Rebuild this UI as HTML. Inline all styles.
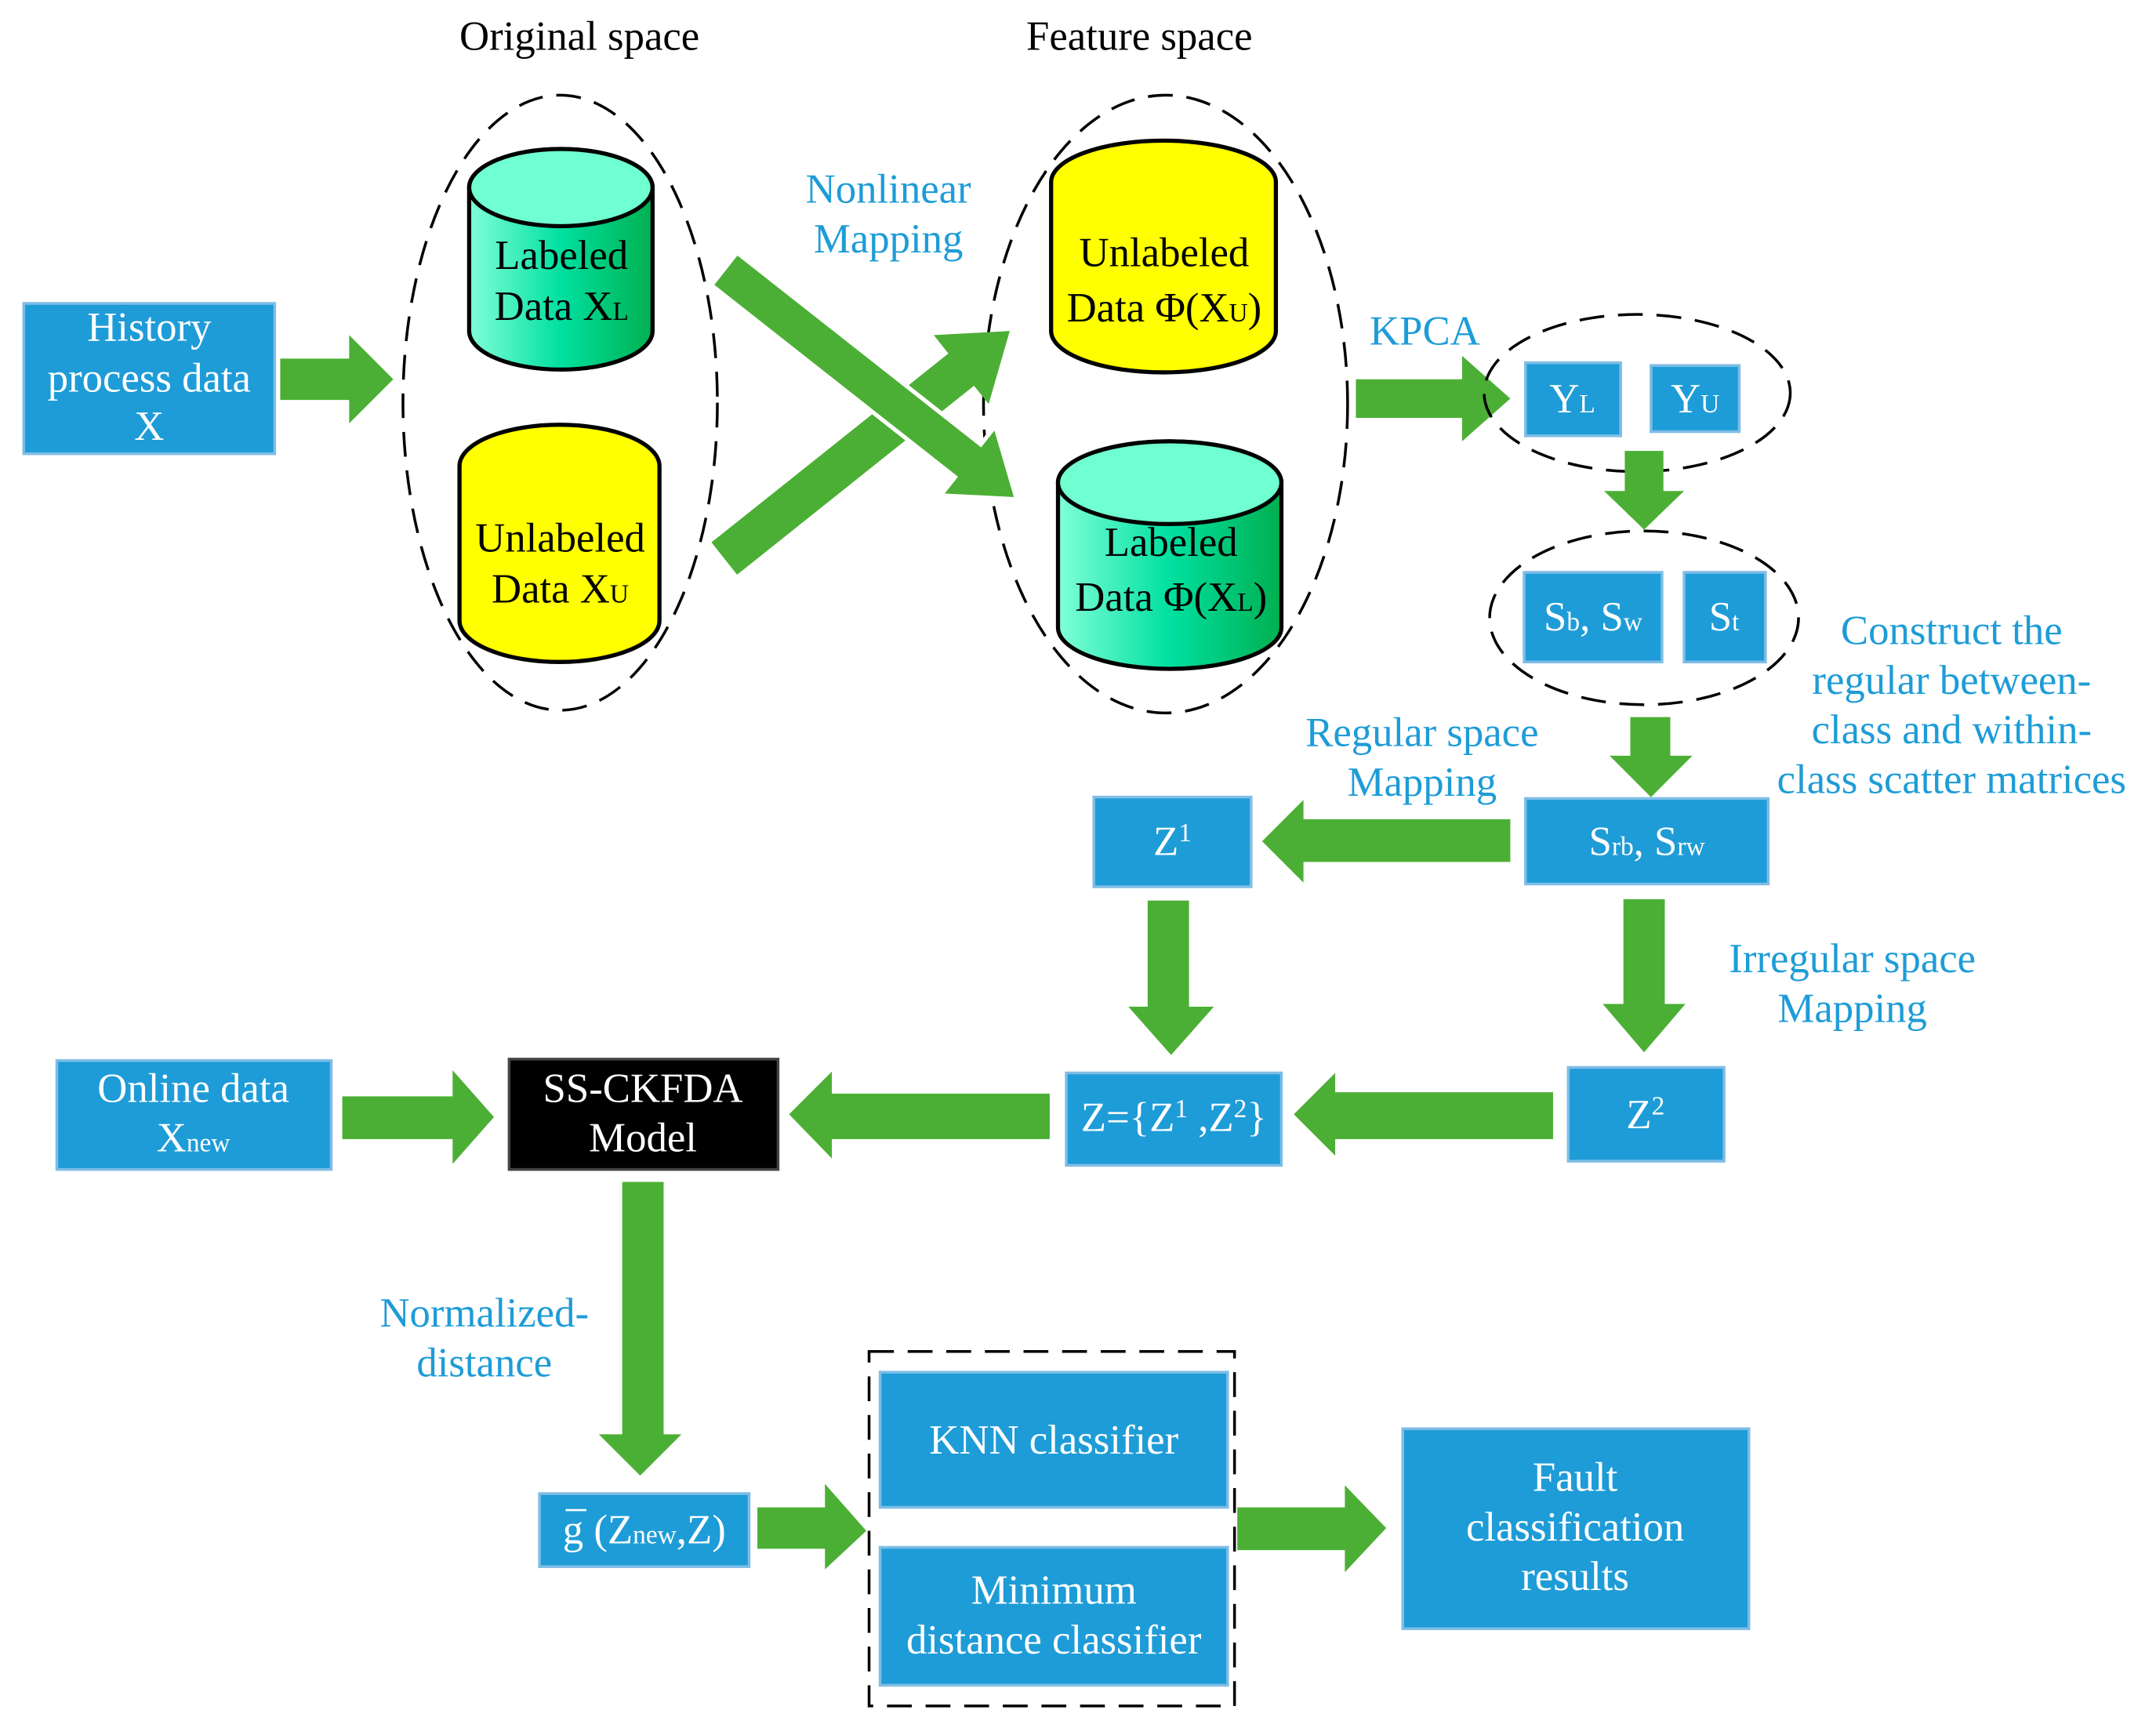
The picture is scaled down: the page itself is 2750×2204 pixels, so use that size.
<!DOCTYPE html>
<html><head><meta charset="utf-8"><style>
html,body{margin:0;padding:0;background:#fff}
svg{display:block}
text{font-family:"Liberation Serif",serif}
.w{fill:#fff;font-size:30px;text-anchor:middle}
.b{fill:#1e9cd7;font-size:30px;text-anchor:middle}
.k{fill:#000;font-size:30px;text-anchor:middle}
.bx{fill:#1e9cd7;stroke:#7fbde6;stroke-width:2}
.g{fill:#4caf35}
.d{fill:none;stroke:#000;stroke-width:2;stroke-dasharray:18,10}
.s{font-size:19px}
</style></head><body>
<svg width="2750" height="2204" viewBox="0 0 1563 1253" xmlns="http://www.w3.org/2000/svg">
<defs>
<linearGradient id="tg" x1="0" x2="1" y1="0" y2="0">
<stop offset="0" stop-color="#80ffd8"/><stop offset="0.5" stop-color="#00e0a0"/><stop offset="1" stop-color="#00b050"/>
</linearGradient>
</defs>

<text class="k" x="420" y="36">Original space</text>
<text class="k" x="826" y="36">Feature space</text>

<ellipse class="d" cx="406" cy="292" rx="114" ry="223"/>
<ellipse class="d" cx="845" cy="293" rx="132" ry="224"/>

<path d="M340,136 L340,240 A66.5,28 0 0 0 473,240 L473,136 A66.5,28 0 0 0 340,136 Z" fill="url(#tg)" stroke="#000" stroke-width="3"/>
<ellipse cx="406.5" cy="136" rx="66.5" ry="28" fill="#70ffd0" stroke="#000" stroke-width="3"/>
<text class="k" x="407" y="195">Labeled</text>
<text class="k" x="407" y="232">Data X<tspan class="s">L</tspan></text>

<path d="M333,338 L333,450 A72.5,30 0 0 0 478,450 L478,338 A72.5,30 0 0 0 333,338 Z" fill="#ffff00" stroke="#000" stroke-width="3"/>
<text class="k" x="406" y="400">Unlabeled</text>
<text class="k" x="406" y="437">Data X<tspan class="s">U</tspan></text>

<path d="M762,132 L762,240 A81.5,30 0 0 0 925,240 L925,132 A81.5,30 0 0 0 762,132 Z" fill="#ffff00" stroke="#000" stroke-width="3"/>
<text class="k" x="844" y="193">Unlabeled</text>
<text class="k" x="844" y="233">Data Φ(X<tspan class="s">U</tspan>)</text>

<path d="M767,350 L767,455 A81,30 0 0 0 929,455 L929,350 A81,30 0 0 0 767,350 Z" fill="url(#tg)" stroke="#000" stroke-width="3"/>
<ellipse cx="848" cy="350" rx="81" ry="30" fill="#70ffd0" stroke="#000" stroke-width="3"/>
<text class="k" x="849" y="403">Labeled</text>
<text class="k" x="849" y="443">Data Φ(X<tspan class="s">L</tspan>)</text>

<rect class="bx" x="17" y="220" width="182" height="109"/>
<text class="w" x="108" y="247">History</text>
<text class="w" x="108" y="284">process data</text>
<text class="w" x="108" y="319">X</text>
<polygon class="g" points="203,260 253,260 253,243 285,275 253,307 253,290 203,290"/>

<text class="b" x="644" y="147">Nonlinear</text>
<text class="b" x="644" y="183">Mapping</text>

<polygon class="g" points="515.7,393.3 687.5,256.3 676.9,243 732,240 716.7,293 706.1,279.7 534.3,416.7"/>
<polygon class="g" stroke="#fff" stroke-width="3" points="534.3,183.2 711,322.3 721.5,309 737,362 681.9,359.2 692.4,345.9 515.7,206.8"/>

<text class="b" x="1033" y="250">KPCA</text>
<polygon class="g" points="983,275 1060,275 1060,258 1095,289 1060,320 1060,303 983,303"/>
<ellipse class="d" cx="1187" cy="285" rx="111" ry="57"/>
<rect class="bx" x="1106" y="263" width="69" height="53"/>
<text class="w" x="1140" y="299">Y<tspan class="s">L</tspan></text>
<rect class="bx" x="1197" y="265" width="64" height="48"/>
<text class="w" x="1229" y="299">Y<tspan class="s">U</tspan></text>

<polygon class="g" points="1178,327 1206,327 1206,356 1221,356 1192,384 1163,356 1178,356"/>
<ellipse class="d" cx="1192" cy="448" rx="112" ry="63"/>
<rect class="bx" x="1105" y="415" width="100" height="65"/>
<text class="w" x="1155" y="457">S<tspan class="s">b</tspan>, S<tspan class="s">w</tspan></text>
<rect class="bx" x="1221" y="415" width="59" height="65"/>
<text class="w" x="1250" y="457">S<tspan class="s">t</tspan></text>

<text class="b" x="1415" y="467">Construct the</text>
<text class="b" x="1415" y="503">regular between-</text>
<text class="b" x="1415" y="539">class and within-</text>
<text class="b" x="1415" y="575">class scatter matrices</text>

<polygon class="g" points="1182,520 1211,520 1211,548 1227,548 1197,578 1167,548 1182,548"/>
<rect class="bx" x="1106" y="579" width="176" height="62"/>
<text class="w" x="1194" y="620">S<tspan class="s">rb</tspan>, S<tspan class="s">rw</tspan></text>

<text class="b" x="1031" y="541">Regular space</text>
<text class="b" x="1031" y="577">Mapping</text>
<polygon class="g" points="1095,594 1095,625 945,625 945,640 915,610 945,580 945,594"/>
<rect class="bx" x="793" y="578" width="114" height="65"/>
<text class="w" x="850" y="620">Z<tspan class="s" dy="-10">1</tspan></text>

<polygon class="g" points="832,653 862,653 862,730 880,730 849,765 818,730 832,730"/>
<polygon class="g" points="1177,652 1207,652 1207,728 1222,728 1192,763 1162,728 1177,728"/>
<text class="b" x="1343" y="705">Irregular space</text>
<text class="b" x="1343" y="741">Mapping</text>

<rect class="bx" x="1137" y="774" width="113" height="68"/>
<text class="w" x="1193" y="818">Z<tspan class="s" dy="-10">2</tspan></text>
<polygon class="g" points="1126,792 1126,826 968,826 968,838 938,808 968,778 968,792"/>
<rect class="bx" x="773" y="778" width="156" height="67"/>
<text class="w" x="851" y="820">Z={Z<tspan class="s" dy="-10">1</tspan><tspan dy="10"> ,Z</tspan><tspan class="s" dy="-10">2</tspan><tspan dy="10">}</tspan></text>
<polygon class="g" points="761,793 761,826 603,826 603,840 572,808 603,777 603,793"/>

<rect x="369" y="768" width="195" height="80" fill="#000" stroke="#444" stroke-width="2"/>
<text class="w" x="466" y="799">SS-CKFDA</text>
<text class="w" x="466" y="835">Model</text>

<rect class="bx" x="41" y="769" width="199" height="79"/>
<text class="w" x="140" y="799">Online data</text>
<text class="w" x="140" y="835">X<tspan class="s">new</tspan></text>
<polygon class="g" points="248,795 328,795 328,776 358,810 328,844 328,826 248,826"/>

<polygon class="g" points="451,857 481,857 481,1040 494,1040 464,1070 434,1040 451,1040"/>
<text class="b" x="351" y="962">Normalized-</text>
<text class="b" x="351" y="998">distance</text>

<rect class="bx" x="391" y="1083" width="152" height="53"/>
<line x1="410" y1="1095" x2="425" y2="1095" stroke="#fff" stroke-width="1.5"/>
<text class="w" x="467" y="1119">g (Z<tspan class="s">new</tspan>,Z)</text>
<polygon class="g" points="549,1093 598,1093 598,1076 628,1110 598,1138 598,1123 549,1123"/>

<rect class="d" x="630" y="980" width="265" height="257"/>
<rect class="bx" x="638" y="995" width="252" height="98"/>
<text class="w" x="764" y="1054">KNN classifier</text>
<rect class="bx" x="638" y="1122" width="252" height="100"/>
<text class="w" x="764" y="1163">Minimum</text>
<text class="w" x="764" y="1199">distance classifier</text>

<polygon class="g" points="897,1093 975,1093 975,1077 1005,1108 975,1140 975,1124 897,1124"/>
<rect class="bx" x="1017" y="1036" width="251" height="145"/>
<text class="w" x="1142" y="1081">Fault</text>
<text class="w" x="1142" y="1117">classification</text>
<text class="w" x="1142" y="1153">results</text>
</svg>
</body></html>
